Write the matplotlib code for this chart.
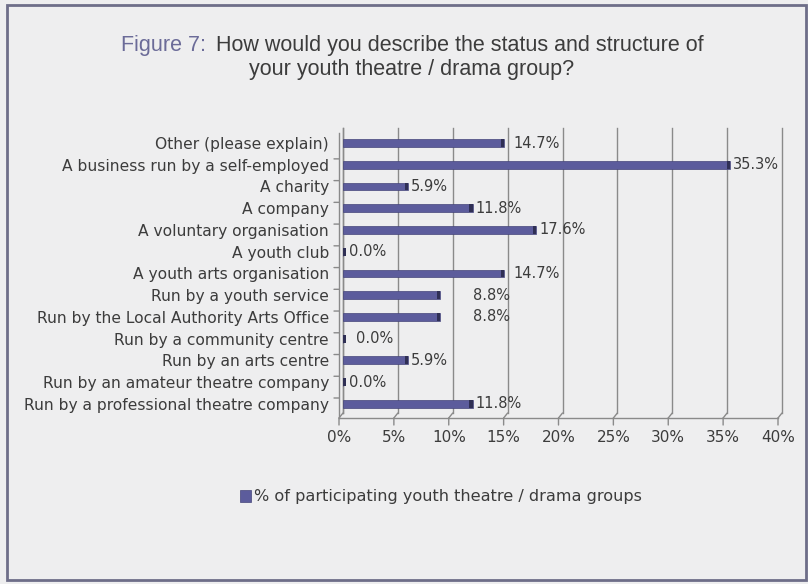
import matplotlib
matplotlib.use("Agg")
import matplotlib.pyplot as plt
from matplotlib.patches import Rectangle
from matplotlib.transforms import ScaledTranslation

categories = ["Other (please explain)",
    "A business run by a self-employed",
    "A charity",
    "A company",
    "A voluntary organisation",
    "A youth club",
    "A youth arts organisation",
    "Run by a youth service",
    "Run by the Local Authority Arts Office",
    "Run by a community centre",
    "Run by an arts centre",
    "Run by an amateur theatre company",
    "Run by a professional theatre company"]

values = [14.7, 35.3, 5.9, 11.8, 17.6, 0.0, 14.7, 8.8, 8.8, 0.0, 5.9, 0.0, 11.8]
value_labels = ["14.7%", "35.3%", "5.9%", "11.8%", "17.6%", "0.0%", "14.7%",
                "8.8%", "8.8%", "0.0%", "5.9%", "0.0%", "11.8%"]

x_ticks = [0, 5, 10, 15, 20, 25, 30, 35, 40]
x_tick_labels = ["0%", "5%", "10%", "15%", "20%", "25%", "30%", "35%", "40%"]

series_name = "% of participating youth theatre / drama groups"

bg = "#eeeeef"
bar_col = "#5c5c9c"
cap_col = "#2f2f55"
grid_col = "#8a8a8a"
text_col = "#3c3c3c"

W, H = 808, 584
fig = plt.figure(figsize=(W / 100, H / 100), dpi=100)
fig.patch.set_facecolor(bg)

# plot area (back wall) in pixels
left, right, top, bottom = 343, 782, 128, 413
ax = fig.add_axes([left / W, 1 - bottom / H, (right - left) / W, (bottom - top) / H])
ax.set_facecolor(bg)
for s in ax.spines.values():
    s.set_visible(False)

n = len(categories)
y = list(range(n))
ax.set_xlim(0, 40)
ax.set_ylim(n - 1 + 0.42, -0.69)

# front plane offset (fake 3D depth)
front = ax.transData + ScaledTranslation(-4 / 100, -5 / 100, fig.dpi_scale_trans)
y_bot = ax.get_ylim()[0]
y_top = ax.get_ylim()[1]

# vertical gridlines on back wall + diagonal to front axis
for xt in x_ticks:
    ax.plot([xt, xt], [y_top, y_bot], color=grid_col, lw=1, zorder=1, clip_on=False)
    ax.annotate("", xy=(xt, y_bot), xycoords=front, xytext=(xt, y_bot),
                textcoords="data",
                arrowprops=dict(arrowstyle="-", color=grid_col, lw=1,
                                shrinkA=0, shrinkB=0))
    # tick below front axis
    ax.annotate("", xy=(xt, y_bot), xycoords=front, xytext=(0, -7),
                textcoords="offset pixels",
                arrowprops=dict(arrowstyle="-", color=grid_col, lw=1,
                                shrinkA=0, shrinkB=0))

# front axis line and left wall edge
ax.plot([0, 40], [y_bot, y_bot], color=grid_col, lw=1, transform=front, clip_on=False)
ax.plot([0, 0], [y_top, y_bot], color=grid_col, lw=1, transform=front, clip_on=False)
ax.plot([0, 0], [y_top, y_bot], color=grid_col, lw=1, clip_on=False)

# category boundary ticks on the left
for b in range(n - 1):
    ax.annotate("", xy=(0, b + 0.5), xycoords=front, xytext=(-5, 0),
                textcoords="offset pixels",
                arrowprops=dict(arrowstyle="-", color=grid_col, lw=1,
                                shrinkA=0, shrinkB=0))

# bars with dark end caps
bh = 0.36
bars = ax.barh(y, values, height=bh, color=bar_col, edgecolor="#44447a",
               lw=0.5, zorder=3, label=series_name)
ax.barh(y, [0.28] * n, left=[max(v - 0.28, 0) for v in values], height=bh,
        color=cap_col, lw=0, zorder=4)

# value labels (a few sit further right in the original)
nudge = {0: 6, 6: 6, 7: 30, 8: 30, 9: 7}
for i, (v, lab) in enumerate(zip(values, value_labels)):
    ax.annotate(lab, xy=(max(v, 0.28), i), xytext=(3 + nudge.get(i, 0), 0),
                textcoords="offset pixels", va="center", ha="left",
                fontsize=10.5, color=text_col, zorder=5)

# category labels
ax.set_yticks(y)
ax.set_yticklabels(categories, fontsize=11.2, color=text_col)
ax.tick_params(axis="y", length=0, pad=10)
ax.set_xticks([])

# x tick labels under the front axis
for xt, lab in zip(x_ticks, x_tick_labels):
    ax.annotate(lab, xy=(xt, y_bot), xycoords=front, xytext=(0, -12),
                textcoords="offset pixels", ha="center", va="top",
                fontsize=11, color=text_col)

# title
t1 = fig.text(121 / W, 1 - 45 / H, "Figure 7:", fontsize=15.5, color="#6b6b98",
              family="Liberation Sans", va="center", ha="left")
fig.canvas.draw()
bb = t1.get_window_extent()
fig.text((bb.x1 + 10) / W, 1 - 45 / H,
         "How would you describe the status and structure of",
         fontsize=15.5, color=text_col, family="Liberation Sans", va="center", ha="left")
fig.text(412 / W, 1 - 69 / H, "your youth theatre / drama group?",
         fontsize=15.5, color=text_col, family="Liberation Sans", va="center", ha="center")

# legend
fig.legend(handles=[bars], labels=[series_name], loc="center",
           bbox_to_anchor=(441 / W, 1 - 497 / H), frameon=False,
           fontsize=11.6, handlelength=0.7, handleheight=0.7, handletextpad=0.2,
           labelcolor=text_col)

# outer frame
fig.patches.append(Rectangle((7 / W, 4 / H), 799 / W, 575 / H, transform=fig.transFigure,
                             fill=False, edgecolor="#6e6e88", lw=2))

fig.savefig("out.png", dpi=100, facecolor=bg)
